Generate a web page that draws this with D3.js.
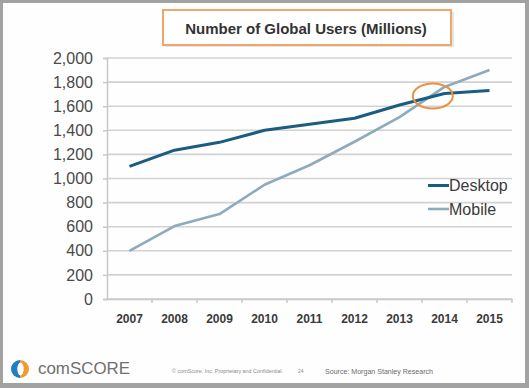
<!DOCTYPE html>
<html>
<head>
<meta charset="utf-8">
<script src="https://cdn.jsdelivr.net/npm/d3@7"></script>
<style>
  html, body { margin: 0; padding: 0; background: #a2a2a2; }
  svg { display: block; }
</style>
</head>
<body>
<svg id="chart" width="529" height="388"></svg>
<script>
const years = ["2007","2008","2009","2010","2011","2012","2013","2014","2015"];
const desktop = [1100, 1235, 1300, 1400, 1450, 1500, 1610, 1705, 1730];
const mobile  = [400, 605, 705, 948, 1110, 1305, 1510, 1760, 1900];
const yTicks = [0, 200, 400, 600, 800, 1000, 1200, 1400, 1600, 1800, 2000];
const seriesNames = ["Desktop", "Mobile"];
const seriesColors = ["#1b5c80", "#8eabbd"];
const title = "Number of Global Users (Millions)";
const highlight = { pos: 7.24, value: 1685 }; // crossover annotation (between 2013 and 2014)

const svg = d3.select("#chart");
const W = 529, H = 388;

// frame
svg.append("rect").attr("x", 0).attr("y", 0).attr("width", W).attr("height", H).attr("fill", "#a2a2a2");
svg.append("rect").attr("x", 3).attr("y", 3).attr("width", 522).attr("height", 380).attr("fill", "#fefefe");

const x = d3.scaleBand().domain(years).range([107, 512]).padding(0);
const y = d3.scaleLinear().domain([0, 2000]).range([299, 58]);

// gridlines
svg.append("g").selectAll("line").data(yTicks).join("line")
  .attr("x1", 107).attr("x2", 512)
  .attr("y1", d => y(d)).attr("y2", d => y(d))
  .attr("stroke", "#d2d2d2").attr("stroke-width", 1.6);

// y axis
const yAxis = svg.append("g").attr("transform", "translate(107,0)")
  .call(d3.axisLeft(y).tickValues(yTicks).tickFormat(d3.format(",")).tickSize(4).tickPadding(10));
yAxis.select(".domain").attr("stroke", "#c8c8c8").attr("stroke-width", 1.5);
yAxis.selectAll(".tick line").attr("stroke", "#c8c8c8").attr("stroke-width", 1.5);
yAxis.selectAll("text").attr("font-family", "Liberation Sans, Arial, sans-serif")
  .attr("font-size", 16).attr("fill", "#4a4a4a");

// x axis
const xAxis = svg.append("g").attr("transform", "translate(0,299)")
  .call(d3.axisBottom(x).tickSize(0).tickPadding(15));
xAxis.select(".domain").attr("stroke", "#c8c8c8").attr("stroke-width", 1.5);
xAxis.selectAll("text").attr("font-family", "Liberation Sans, Arial, sans-serif")
  .attr("font-size", 12).attr("font-weight", "bold").attr("fill", "#3a3a3a");
// boundary tick marks
svg.append("g").selectAll("line").data(years).join("line")
  .attr("x1", (d, i) => x(years[0]) + x.bandwidth() * (i + 1))
  .attr("x2", (d, i) => x(years[0]) + x.bandwidth() * (i + 1))
  .attr("y1", 299).attr("y2", 303)
  .attr("stroke", "#c8c8c8").attr("stroke-width", 1.5);

// lines
const cx = d => x(d) + x.bandwidth() / 2;
const line = d3.line().x((d, i) => cx(years[i])).y(d => y(d));
[mobile, desktop].forEach((s, k) => {
  const idx = k === 0 ? 1 : 0;
  svg.append("path").datum(s)
    .attr("d", line)
    .attr("fill", "none")
    .attr("stroke", seriesColors[idx])
    .attr("stroke-width", idx === 0 ? 3 : 2.6)
    .attr("stroke-linejoin", "round");
});

// crossover ellipse
const hx = x(years[0]) + x.bandwidth() * highlight.pos;
svg.append("ellipse")
  .attr("cx", hx).attr("cy", y(highlight.value))
  .attr("rx", 20).attr("ry", 12.5)
  .attr("fill", "none").attr("stroke", "#e9913f").attr("stroke-width", 2);

// legend
const legend = svg.append("g").selectAll("g").data(seriesNames).join("g")
  .attr("transform", (d, i) => `translate(428,${185.5 + i * 23.5})`);
legend.append("line").attr("x1", 0).attr("x2", 21).attr("y1", 0).attr("y2", 0)
  .attr("stroke", (d, i) => seriesColors[i]).attr("stroke-width", (d, i) => i === 0 ? 3 : 2.6);
legend.append("text").attr("x", 21).attr("y", 0).attr("dy", "0.35em")
  .attr("font-family", "Liberation Sans, Arial, sans-serif").attr("font-size", 16)
  .attr("fill", "#3a3a3a").text(d => d);

// title box
const tb = svg.append("g");
tb.append("rect").attr("x", 165).attr("y", 12).attr("width", 289).attr("height", 35)
  .attr("fill", "#e6e6e6");
tb.append("rect").attr("x", 163).attr("y", 10).attr("width", 288).attr("height", 35)
  .attr("fill", "#ffffff").attr("stroke", "#efa56b").attr("stroke-width", 2);
tb.append("text").attr("x", 306).attr("y", 28.5).attr("dy", "0.35em").attr("text-anchor", "middle")
  .attr("font-family", "Liberation Sans, Arial, sans-serif").attr("font-size", 15)
  .attr("font-weight", "bold").attr("fill", "#333333").text(title);

// footer logo
const lg = svg.append("g").attr("transform", "translate(20,369)");
const arc = d3.arc();
lg.append("path").attr("d", arc({innerRadius: 0, outerRadius: 9, startAngle: Math.PI, endAngle: 2 * Math.PI}))
  .attr("fill", "#1f7fbf");
lg.append("path").attr("d", arc({innerRadius: 0, outerRadius: 9, startAngle: 0, endAngle: Math.PI}))
  .attr("fill", "#f29a2e");
lg.append("ellipse").attr("cx", 0.5).attr("cy", 0).attr("rx", 3.2).attr("ry", 6.5).attr("fill", "#ffffff");
svg.append("text").attr("x", 38).attr("y", 374)
  .attr("font-family", "Liberation Sans, Arial, sans-serif").attr("font-size", 17)
  .attr("fill", "#6f6f6f").attr("textLength", 92).attr("lengthAdjust", "spacingAndGlyphs")
  .text("comSCORE");
svg.append("text").attr("x", 172).attr("y", 373)
  .attr("font-family", "Liberation Sans, Arial, sans-serif").attr("font-size", 5)
  .attr("fill", "#8a8a8a").attr("textLength", 111).attr("lengthAdjust", "spacingAndGlyphs")
  .text("© comScore, Inc. Proprietary and Confidential.");
svg.append("text").attr("x", 298).attr("y", 373)
  .attr("font-family", "Liberation Sans, Arial, sans-serif").attr("font-size", 5)
  .attr("fill", "#8a8a8a").text("24");
svg.append("text").attr("x", 325).attr("y", 374)
  .attr("font-family", "Liberation Sans, Arial, sans-serif").attr("font-size", 7.5)
  .attr("fill", "#6a6a6a").attr("textLength", 108).attr("lengthAdjust", "spacingAndGlyphs")
  .text("Source: Morgan Stanley Research");
</script>
</body>
</html>
